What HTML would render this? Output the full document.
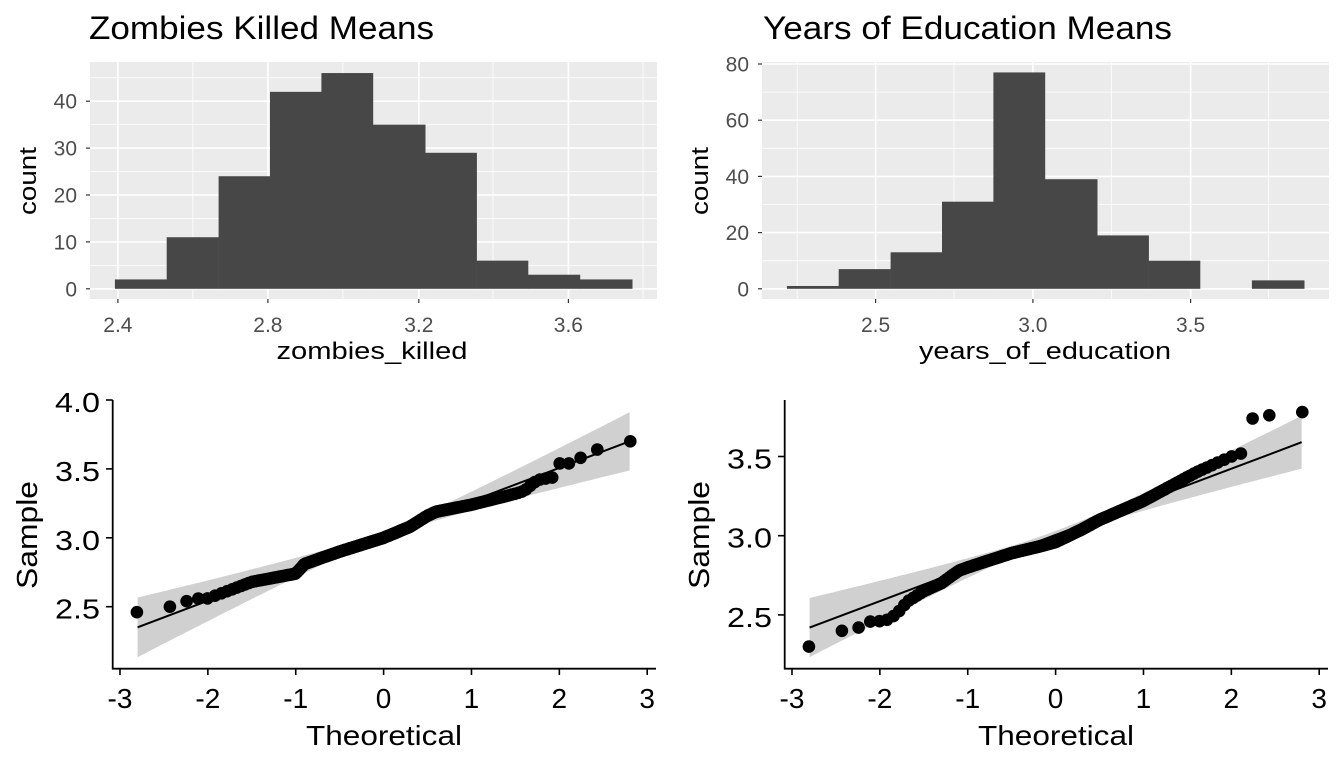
<!DOCTYPE html>
<html><head><meta charset="utf-8"><style>
html,body{margin:0;padding:0;background:#fff;}
svg{display:block;font-family:"Liberation Sans",Arial,sans-serif;}
</style></head><body>
<svg id="s" width="1344" height="768" viewBox="0 0 1344 768" xmlns="http://www.w3.org/2000/svg">
<rect width="1344" height="768" fill="#fff"/>
<text x="89" y="39" font-size="32" textLength="345" lengthAdjust="spacingAndGlyphs">Zombies Killed Means</text>
<text x="763" y="39" font-size="32" textLength="409" lengthAdjust="spacingAndGlyphs">Years of Education Means</text>
<g id="g"></g>
</svg>
<script>
var g=document.getElementById('g');var out='';
function R(x,y,w,h,f){out+='<rect x="'+x+'" y="'+y+'" width="'+w+'" height="'+h+'" fill="'+f+'"/>';}
function L(x1,y1,x2,y2,c,w){out+='<line x1="'+x1+'" y1="'+y1+'" x2="'+x2+'" y2="'+y2+'" stroke="'+c+'" stroke-width="'+w+'"/>';}
function T(x,y,s,fs,anc,fill,tl,rot){out+='<text x="'+x+'" y="'+y+'" font-size="'+fs+'" text-anchor="'+anc+'" fill="'+fill+'"'+(tl?' textLength="'+tl+'" lengthAdjust="spacingAndGlyphs"':'')+(rot?' transform="rotate(-90 '+x+' '+y+')"':'')+'>'+s+'</text>';}
(function(){
 var x0=90,x1=657,y0=62,y1=299;R(x0,y0,x1-x0,y1-y0,'#ebebeb');
 var yz=288.8,k=4.69;
 [5,15,25,35,45].forEach(function(v){L(x0,yz-v*k,x1,yz-v*k,'#fff',0.8);});
 [192.9,342.9,493,643].forEach(function(x){L(x,y0,x,y1,'#fff',0.8);});
 [0,10,20,30,40].forEach(function(v){L(x0,yz-v*k,x1,yz-v*k,'#fff',1.6);L(x0-4,yz-v*k,x0,yz-v*k,'#333',1.2);T(77,yz-v*k+7.5,v,21,'end','#4d4d4d');});
 var xt=[[117.9,'2.4'],[267.9,'2.8'],[418.8,'3.2'],[568.4,'3.6']];
 xt.forEach(function(a){L(a[0],y0,a[0],y1,'#fff',1.6);L(a[0],y1,a[0],y1+4,'#333',1.2);T(a[0],332,a[1],21,'middle','#4d4d4d');});
 var e=[114.9,166.7,218.6,270,321.4,372.9,425.2,476.6,528,579.9,632.2],h=[2,11,24,42,46,35,29,6,3,2];
 for(var i=0;i<10;i++)R(e[i],yz-h[i]*k,e[i+1]-e[i]+0.3,h[i]*k,'#474747');
 T(372,359,'zombies_killed',24,'middle','#000',191);
 T(36,181,'count',24,'middle','#000',68,true);
})();
(function(){
 var x0=762,x1=1329,y0=62,y1=299;R(x0,y0,x1-x0,y1-y0,'#ebebeb');
 var yz=288.8,k=2.81;
 [10,30,50,70].forEach(function(v){L(x0,yz-v*k,x1,yz-v*k,'#fff',0.8);});
 [797.2,954,1111.3,1268.6].forEach(function(x){L(x,y0,x,y1,'#fff',0.8);});
 [0,20,40,60,80].forEach(function(v){L(x0,yz-v*k,x1,yz-v*k,'#fff',1.6);L(x0-4,yz-v*k,x0,yz-v*k,'#333',1.2);T(749,yz-v*k+7.5,v,21,'end','#4d4d4d');});
 [[875.6,'2.5'],[1032.9,'3.0'],[1190.6,'3.5']].forEach(function(a){L(a[0],y0,a[0],y1,'#fff',1.6);L(a[0],y1,a[0],y1+4,'#333',1.2);T(a[0],332,a[1],21,'middle','#4d4d4d');});
 var e=[786.9,838.7,890.6,942,993.4,1044.9,1097.2,1148.6,1200,1251.9,1304.2],h=[1,7,13,31,77,39,19,10,0,3];
 for(var i=0;i<10;i++)if(h[i])R(e[i],yz-h[i]*k,e[i+1]-e[i]+0.3,h[i]*k,'#474747');
 T(1045,359,'years_of_education',24,'middle','#000',252);
 T(708,181,'count',24,'middle','#000',68,true);
})();
function qnorm(p){var a=[-39.69683028665376,220.9460984245205,-275.9285104469687,138.3577518672690,-30.66479806614716,2.506628277459239],b=[-54.47609879822406,161.5858368580409,-155.6989798598866,66.80131188771972,-13.28068155288572],c=[-0.007784894002430293,-0.3223964580411365,-2.400758277161838,-2.549732539343734,4.374664141464968,2.938163982698783],d=[0.007784695709041462,0.3224671290700398,2.445134137142996,3.754408661907416],q,r;
 if(p<0.02425){q=Math.sqrt(-2*Math.log(p));return (((((c[0]*q+c[1])*q+c[2])*q+c[3])*q+c[4])*q+c[5])/((((d[0]*q+d[1])*q+d[2])*q+d[3])*q+1);}
 if(p>1-0.02425){q=Math.sqrt(-2*Math.log(1-p));return -(((((c[0]*q+c[1])*q+c[2])*q+c[3])*q+c[4])*q+c[5])/((((d[0]*q+d[1])*q+d[2])*q+d[3])*q+1);}
 q=p-0.5;r=q*q;return (((((a[0]*r+a[1])*r+a[2])*r+a[3])*r+a[4])*r+a[5])*q/(((((b[0]*r+b[1])*r+b[2])*r+b[3])*r+b[4])*r+1);}
function interp(pts,x){if(x<=pts[0][0])return pts[0][1];for(var i=1;i<pts.length;i++){if(x<=pts[i][0]){var a=pts[i-1],b=pts[i];return a[1]+(b[1]-a[1])*(x-a[0])/(b[0]-a[0]);}}return pts[pts.length-1][1];}
function qq(ox,yf,yticks,pts,l0,l1,h0,h1){
 var X=function(t){return ox+383.6+t*87.87;};
 var up=[],lo=[];
 for(var t=-2.8;t<=2.8001;t+=0.05){var c=l0+(l1-l0)*(t+2.8)/5.6;var hh=t<0?h0:h1;var h=Math.sqrt(0.025*0.025+hh*hh*Math.pow(Math.abs(t)/2.8,2.3));up.push(X(t).toFixed(1)+','+yf(c+h).toFixed(1));lo.unshift(X(t).toFixed(1)+','+yf(c-h).toFixed(1));}
 out+='<polygon points="'+up.concat(lo).join(' ')+'" fill="#d0d0d0"/>';
 for(var i=1;i<=200;i++){var t=qnorm((i-0.5)/200);out+='<circle cx="'+X(t).toFixed(1)+'" cy="'+yf(interp(pts,t)).toFixed(1)+'" r="6.3" fill="#000"/>';}
 L(X(-2.8),yf(l0),X(2.8),yf(l1),'#000',2);
 L(ox+112.7,400,ox+112.7,669.5,'#000',1.8);L(ox+112,668.7,ox+656,668.7,'#000',1.8);
 [-3,-2,-1,0,1,2,3].forEach(function(t){L(X(t),668.7,X(t),675,'#000',1.6);T(X(t),708,t<0?'-'+(-t):t,28,'middle','#000');});
 yticks.forEach(function(v){var y=yf(v);L(ox+106,y,ox+112.7,y,'#000',1.6);T(ox+100,y+12,v.toFixed(1),28,'end','#000',45);});
 T(ox+384,745,'Theoretical',28,'middle','#000',156);
 T(ox+37,535,'Sample',29,'middle','#000',108,true);
}
qq(0,function(v){return 400+(4-v)*137.8;},[2.5,3.0,3.5,4.0],
 [[-2.8,2.46],[-2.43,2.50],[-2.24,2.54],[-2.1,2.56],[-2,2.56],[-1.5,2.68],[-1.0,2.74],[-0.9,2.81],[-0.5,2.90],[0,3.0],[0.3,3.08],[0.5,3.16],[0.6,3.19],[1,3.24],[1.5,3.32],[1.6,3.34],[1.75,3.42],[1.95,3.44],[2.0,3.54],[2.12,3.54],[2.24,3.58],[2.43,3.64],[2.8,3.70]],
 2.35,3.70,0.215,0.21);
qq(672,function(v){return 535.7-(v-3)*158.4;},[2.5,3.0,3.5],
 [[-2.8,2.30],[-2.43,2.40],[-2.24,2.42],[-2.1,2.46],[-1.95,2.46],[-1.85,2.49],[-1.75,2.54],[-1.7,2.58],[-1.5,2.65],[-1.3,2.70],[-1.1,2.78],[-1.0,2.80],[-0.5,2.89],[-0.2,2.93],[0,2.96],[0.3,3.04],[0.5,3.10],[1,3.22],[1.5,3.37],[1.6,3.40],[2.0,3.50],[2.12,3.52],[2.2,3.53],[2.24,3.74],[2.43,3.76],[2.8,3.78]],
 2.42,3.59,0.185,0.165);
g.innerHTML=out;
</script>
</body></html>
